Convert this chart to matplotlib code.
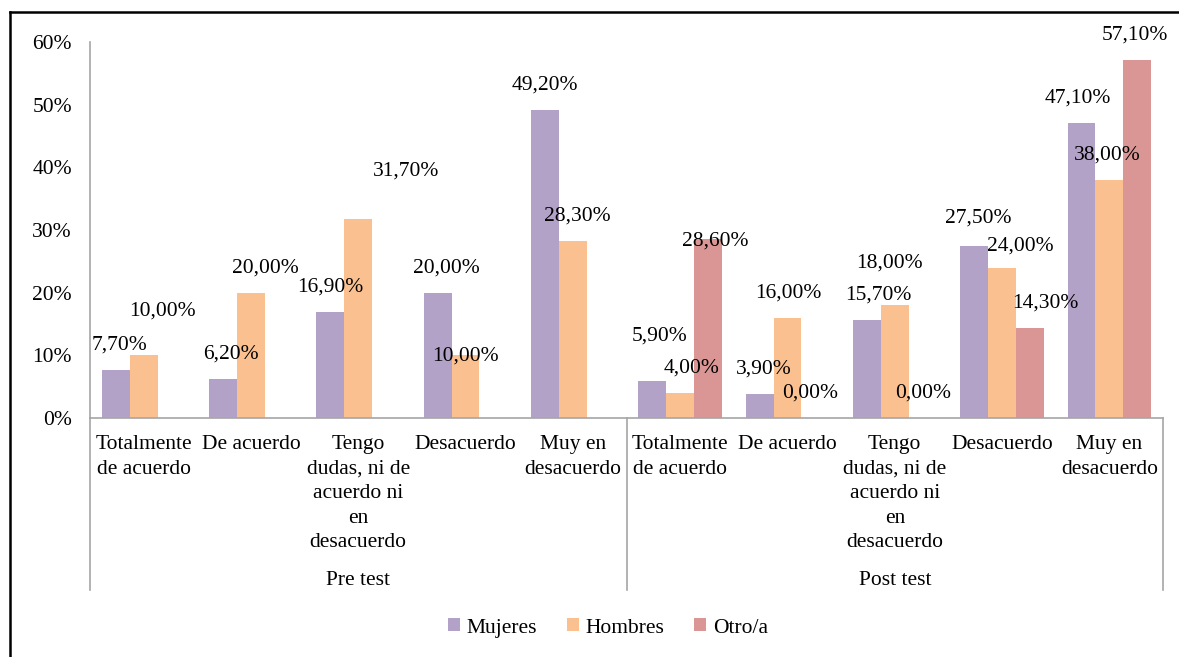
import matplotlib
matplotlib.use("Agg")
import matplotlib.pyplot as plt
from matplotlib.lines import Line2D
from matplotlib.patches import Patch

plt.rcParams['font.family'] = ['Liberation Serif', 'DejaVu Serif']

# data (percent)
categories = ["Totalmente\nde acuerdo", "De acuerdo",
              "Tengo\ndudas, ni de\nacuerdo ni\nen\ndesacuerdo",
              "Desacuerdo", "Muy en\ndesacuerdo"]
groups = ["Pre test", "Post test"]
series_names = ["Mujeres", "Hombres", "Otro/a"]

mujeres = [7.7, 6.2, 16.9, 20.0, 49.2, 5.9, 3.9, 15.7, 27.5, 47.1]
hombres = [10.0, 20.0, 31.7, 10.0, 28.3, 4.0, 16.0, 18.0, 24.0, 38.0]
otro = [None, None, None, None, None, 28.6, 0.0, 0.0, 14.3, 57.1]

colors = ["#B3A2C7", "#FAC090", "#D99694"]

# manual nudges of the data labels (pixels, right / up), as moved in the original
lab_dx = [[4, 8, 0, 9, 0, 7, 4, 12, 4, -4],
          [19, 14, 48, 0, 4, 11, 1, -5, 18, -2],
          [0, 0, 0, 0, 0, 7, -5, 0, 15, -2]]
lab_dy = [[0, 0, 0, 0, 0, 20, 0, 0, 3, 0],
          [19, 0, 23, -26, 0, 0, 0, 17, -3, 0],
          [0, 0, 0, 0, 0, -27, 0, 0, 0, 0]]

W, H = 1179, 657
fig = plt.figure(figsize=(W / 100, H / 100), dpi=100)
ax = fig.add_axes([90 / W, (H - 418) / H, (1163 - 90) / W, (418 - 42) / H])

fs = 15.5
gray = "#A6A6A6"
bw = 0.26
n = len(mujeres)
for j, vals in enumerate([mujeres, hombres, otro]):
    for i, v in enumerate(vals):
        if v is None:
            continue
        x = i + 0.5 + (j - 1) * bw
        ax.bar(x, v, width=bw, color=colors[j], edgecolor='none')
        txt = f"{v:.2f}".replace('.', ',') + "%"
        ax.annotate(txt, (x, v), xytext=(lab_dx[j][i] * 0.72, (25 + lab_dy[j][i]) * 0.72),
                    textcoords='offset points', ha='center', va='center', fontsize=fs,
                    annotation_clip=False)

ax.set_xlim(0, n)
ax.set_ylim(0, 60)
ax.set_yticks(range(0, 61, 10))
ax.set_yticklabels([f"{t}%" for t in range(0, 61, 10)], fontsize=fs)
ax.tick_params(axis='y', length=0, pad=13)
ax.set_xticks([])
for s in ["top", "right"]:
    ax.spines[s].set_visible(False)
for s in ["left", "bottom"]:
    ax.spines[s].set_color(gray)
    ax.spines[s].set_linewidth(1.2)

xt = ax.get_xaxis_transform()
for g in range(len(groups)):
    for k, c in enumerate(categories):
        ax.text(g * 5 + k + 0.5, -0.045, c, transform=xt, ha='center', va='top',
                fontsize=fs, linespacing=1.4)
    ax.text(g * 5 + 2.5, -0.432, groups[g], transform=xt, ha='center', va='center', fontsize=fs)
for xs in [0, 5, 10]:
    ax.plot([xs, xs], [0, -0.457], transform=xt, color=gray, lw=1.2, clip_on=False)

handles = [Patch(facecolor=c, edgecolor='none') for c in colors]
fig.legend(handles, series_names, loc='center', bbox_to_anchor=(608 / W, 1 - 628 / H),
           ncol=3, frameon=False, fontsize=fs, handlelength=0.55, handleheight=0.55,
           handletextpad=0.3, columnspacing=1.4)

# outer frame (top and left edges visible)
fig.add_artist(Line2D([10 / W, 1], [1 - 12 / H, 1 - 12 / H], color='black', lw=1.8))
fig.add_artist(Line2D([10 / W, 10 / W], [0, 1 - 12 / H], color='black', lw=1.8))

fig.savefig("out.png", dpi=100)
